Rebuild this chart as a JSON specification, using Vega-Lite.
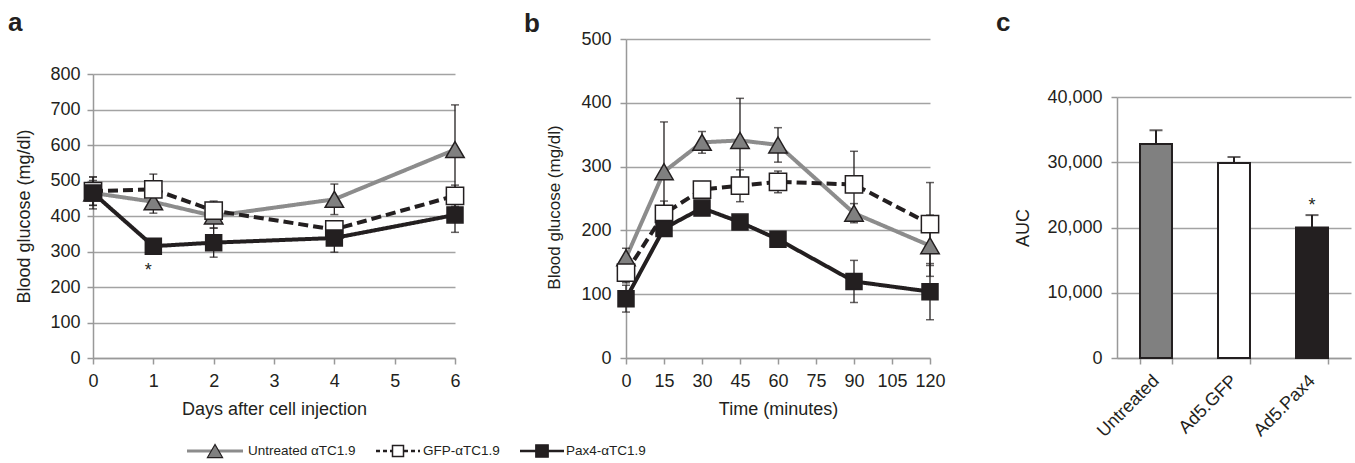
{
  "$schema": "https://vega.github.io/schema/vega-lite/v6.json",
  "padding": {"left": 8, "top": 10, "right": 2, "bottom": 2},
  "datasets": {
    "glucose": [
      {"day": 0, "series": "Untreated αTC1.9", "mean": 465, "lo": 420, "hi": 510},
      {"day": 1, "series": "Untreated αTC1.9", "mean": 440, "lo": 408, "hi": 472},
      {"day": 2, "series": "Untreated αTC1.9", "mean": 400, "lo": 366, "hi": 434},
      {"day": 4, "series": "Untreated αTC1.9", "mean": 447, "lo": 404, "hi": 490},
      {"day": 6, "series": "Untreated αTC1.9", "mean": 587, "lo": 461, "hi": 713},
      {"day": 0, "series": "GFP-αTC1.9", "mean": 470, "lo": 430, "hi": 510},
      {"day": 1, "series": "GFP-αTC1.9", "mean": 475, "lo": 432, "hi": 518},
      {"day": 2, "series": "GFP-αTC1.9", "mean": 415, "lo": 388, "hi": 442},
      {"day": 4, "series": "GFP-αTC1.9", "mean": 362, "lo": 342, "hi": 382},
      {"day": 6, "series": "GFP-αTC1.9", "mean": 457, "lo": 427, "hi": 487},
      {"day": 0, "series": "Pax4-αTC1.9", "mean": 465, "lo": 430, "hi": 500},
      {"day": 1, "series": "Pax4-αTC1.9", "mean": 315, "lo": 303, "hi": 327},
      {"day": 2, "series": "Pax4-αTC1.9", "mean": 325, "lo": 284, "hi": 366},
      {"day": 4, "series": "Pax4-αTC1.9", "mean": 338, "lo": 298, "hi": 378},
      {"day": 6, "series": "Pax4-αTC1.9", "mean": 403, "lo": 354, "hi": 452}
    ],
    "ogtt": [
      {"t": 0, "series": "Untreated αTC1.9", "mean": 157, "lo": 142, "hi": 172},
      {"t": 15, "series": "Untreated αTC1.9", "mean": 292, "lo": 214, "hi": 370},
      {"t": 30, "series": "Untreated αTC1.9", "mean": 338, "lo": 321, "hi": 355},
      {"t": 45, "series": "Untreated αTC1.9", "mean": 341, "lo": 275, "hi": 407},
      {"t": 60, "series": "Untreated αTC1.9", "mean": 334, "lo": 307, "hi": 361},
      {"t": 90, "series": "Untreated αTC1.9", "mean": 227, "lo": 212, "hi": 242},
      {"t": 120, "series": "Untreated αTC1.9", "mean": 176, "lo": 128, "hi": 224},
      {"t": 0, "series": "GFP-αTC1.9", "mean": 134, "lo": 118, "hi": 150},
      {"t": 15, "series": "GFP-αTC1.9", "mean": 226, "lo": 206, "hi": 246},
      {"t": 30, "series": "GFP-αTC1.9", "mean": 264, "lo": 252, "hi": 276},
      {"t": 45, "series": "GFP-αTC1.9", "mean": 270, "lo": 245, "hi": 295},
      {"t": 60, "series": "GFP-αTC1.9", "mean": 276, "lo": 259, "hi": 293},
      {"t": 90, "series": "GFP-αTC1.9", "mean": 272, "lo": 220, "hi": 324},
      {"t": 120, "series": "GFP-αTC1.9", "mean": 210, "lo": 145, "hi": 275},
      {"t": 0, "series": "Pax4-αTC1.9", "mean": 93, "lo": 72, "hi": 114},
      {"t": 15, "series": "Pax4-αTC1.9", "mean": 203, "lo": 191, "hi": 215},
      {"t": 30, "series": "Pax4-αTC1.9", "mean": 235, "lo": 225, "hi": 245},
      {"t": 45, "series": "Pax4-αTC1.9", "mean": 213, "lo": 205, "hi": 221},
      {"t": 60, "series": "Pax4-αTC1.9", "mean": 186, "lo": 178, "hi": 194},
      {"t": 90, "series": "Pax4-αTC1.9", "mean": 120, "lo": 87, "hi": 153},
      {"t": 120, "series": "Pax4-αTC1.9", "mean": 104, "lo": 60, "hi": 148}
    ],
    "auc": [
      {"group": "Untreated", "auc": 32800, "hi": 34900},
      {"group": "Ad5.GFP", "auc": 29900, "hi": 30800},
      {"group": "Ad5.Pax4", "auc": 20000, "hi": 21900}
    ]
  },
  "config": {
    "view": {"stroke": null},
    "font": "Liberation Sans",
    "axis": {
      "labelFont": "Liberation Sans", "labelFontSize": 18, "labelColor": "#231f20", "labelOverlap": false, "labelFlush": false,
      "titleFont": "Liberation Sans", "titleFontSize": 18, "titleFontWeight": "normal", "titleColor": "#231f20",
      "domainColor": "#999999", "domainWidth": 1.5, "tickColor": "#999999", "tickWidth": 1.5, "tickSize": 6,
      "gridColor": "#a3a3a3", "gridWidth": 1.5
    },
    "axisX": {"grid": false},
    "axisY": {"grid": true},
    "title": {"font": "Liberation Sans", "fontSize": 26, "fontWeight": "bold", "anchor": "start", "frame": "group", "color": "#231f20"}
  },
  "spacing": 0,
  "vconcat": [
    {
      "spacing": 50,
      "hconcat": [
        {
          "spacing": 56,
          "hconcat": [
            {
              "width": 362, "height": 319,
              "title": {"text": "a", "dx": -85, "offset": 3},
              "data": {"name": "glucose"},
              "encoding": {
                "x": {"field": "day", "type": "quantitative", "scale": {"domain": [0, 6], "nice": false},
                      "axis": {"values": [0, 1, 2, 3, 4, 5, 6], "title": "Days after cell injection", "labelPadding": 8, "titlePadding": 10}}
              },
              "layer": [
                {
                  "mark": {"type": "line", "strokeWidth": 4},
                  "encoding": {
                    "y": {"field": "mean", "type": "quantitative", "scale": {"domain": [0, 800], "nice": false, "range": [319, 35]},
                          "axis": {"values": [0, 100, 200, 300, 400, 500, 600, 700, 800], "tickCount": 9, "labelOverlap": false, "title": "Blood glucose (mg/dl)", "labelPadding": 7, "titlePadding": 16}},
                    "stroke": {"field": "series", "type": "nominal", "scale": {"domain": ["Untreated αTC1.9", "GFP-αTC1.9", "Pax4-αTC1.9"], "range": ["#8c8c8c", "#231f20", "#231f20"]}, "legend": null},
                    "strokeDash": {"field": "series", "type": "nominal", "scale": {"domain": ["Untreated αTC1.9", "GFP-αTC1.9", "Pax4-αTC1.9"], "range": [[1, 0], [10, 5], [1, 0]]}, "legend": null}
                  }
                },
                {
                  "mark": {"type": "rule", "color": "#231f20", "strokeWidth": 1.3},
                  "encoding": {"y": {"field": "lo", "type": "quantitative", "axis": {"values": [0, 100, 200, 300, 400, 500, 600, 700, 800], "tickCount": 9, "labelOverlap": false, "title": "Blood glucose (mg/dl)", "labelPadding": 7, "titlePadding": 16}}, "y2": {"field": "hi"}}
                },
                {
                  "mark": {"type": "tick", "orient": "horizontal", "color": "#231f20", "size": 8, "thickness": 1.5},
                  "encoding": {"y": {"field": "lo", "type": "quantitative", "axis": {"values": [0, 100, 200, 300, 400, 500, 600, 700, 800], "tickCount": 9, "labelOverlap": false, "title": "Blood glucose (mg/dl)", "labelPadding": 7, "titlePadding": 16}}}
                },
                {
                  "mark": {"type": "tick", "orient": "horizontal", "color": "#231f20", "size": 8, "thickness": 1.5},
                  "encoding": {"y": {"field": "hi", "type": "quantitative", "axis": {"values": [0, 100, 200, 300, 400, 500, 600, 700, 800], "tickCount": 9, "labelOverlap": false, "title": "Blood glucose (mg/dl)", "labelPadding": 7, "titlePadding": 16}}}
                },
                {
                  "mark": {"type": "point", "filled": true, "opacity": 1, "stroke": "#231f20", "strokeWidth": 1.5},
                  "encoding": {
                    "y": {"field": "mean", "type": "quantitative", "axis": {"values": [0, 100, 200, 300, 400, 500, 600, 700, 800], "tickCount": 9, "labelOverlap": false, "title": "Blood glucose (mg/dl)", "labelPadding": 7, "titlePadding": 16}},
                    "shape": {"field": "series", "type": "nominal", "scale": {"domain": ["Untreated αTC1.9", "GFP-αTC1.9", "Pax4-αTC1.9"], "range": ["triangle-up", "square", "square"]}, "legend": null},
                    "size": {"field": "series", "type": "nominal", "scale": {"domain": ["Untreated αTC1.9", "GFP-αTC1.9", "Pax4-αTC1.9"], "range": [340, 256, 256]}, "legend": null},
                    "fill": {"field": "series", "type": "nominal", "scale": {"domain": ["Untreated αTC1.9", "GFP-αTC1.9", "Pax4-αTC1.9"], "range": ["#808080", "#ffffff", "#231f20"]}, "legend": null}
                  }
                },
                {
                  "data": {"values": [{"day": 1, "mean": 246, "label": "*"}]},
                  "mark": {"type": "text", "dx": -5, "fontSize": 18, "baseline": "middle", "color": "#231f20", "font": "Liberation Sans"},
                  "encoding": {"y": {"field": "mean", "type": "quantitative", "axis": {"values": [0, 100, 200, 300, 400, 500, 600, 700, 800], "tickCount": 9, "labelOverlap": false, "title": "Blood glucose (mg/dl)", "labelPadding": 7, "titlePadding": 16}}, "text": {"field": "label"}}
                }
              ]
            },
            {
              "width": 304, "height": 319,
              "title": {"text": "b", "dx": -102, "offset": -7},
              "data": {"name": "ogtt"},
              "encoding": {
                "x": {"field": "t", "type": "quantitative", "scale": {"domain": [0, 120], "nice": false},
                      "axis": {"values": [0, 15, 30, 45, 60, 75, 90, 105, 120], "title": "Time (minutes)", "labelPadding": 8, "titlePadding": 10}}
              },
              "layer": [
                {
                  "mark": {"type": "line", "strokeWidth": 4},
                  "encoding": {
                    "y": {"field": "mean", "type": "quantitative", "scale": {"domain": [0, 500], "nice": false},
                          "axis": {"values": [0, 100, 200, 300, 400, 500], "labelOverlap": false, "title": "Blood glucose (mg/dl)", "titleFontSize": 17, "titleY": 168, "labelPadding": 9, "titlePadding": 17}},
                    "stroke": {"field": "series", "type": "nominal", "legend": null},
                    "strokeDash": {"field": "series", "type": "nominal", "legend": null}
                  }
                },
                {
                  "mark": {"type": "rule", "color": "#231f20", "strokeWidth": 1.3},
                  "encoding": {"y": {"field": "lo", "type": "quantitative", "axis": {"values": [0, 100, 200, 300, 400, 500], "labelOverlap": false, "title": "Blood glucose (mg/dl)", "titleFontSize": 17, "titleY": 168, "labelPadding": 9, "titlePadding": 17}}, "y2": {"field": "hi"}}
                },
                {
                  "mark": {"type": "tick", "orient": "horizontal", "color": "#231f20", "size": 8, "thickness": 1.5},
                  "encoding": {"y": {"field": "lo", "type": "quantitative", "axis": {"values": [0, 100, 200, 300, 400, 500], "labelOverlap": false, "title": "Blood glucose (mg/dl)", "titleFontSize": 17, "titleY": 168, "labelPadding": 9, "titlePadding": 17}}}
                },
                {
                  "mark": {"type": "tick", "orient": "horizontal", "color": "#231f20", "size": 8, "thickness": 1.5},
                  "encoding": {"y": {"field": "hi", "type": "quantitative", "axis": {"values": [0, 100, 200, 300, 400, 500], "labelOverlap": false, "title": "Blood glucose (mg/dl)", "titleFontSize": 17, "titleY": 168, "labelPadding": 9, "titlePadding": 17}}}
                },
                {
                  "mark": {"type": "point", "filled": true, "opacity": 1, "stroke": "#231f20", "strokeWidth": 1.5},
                  "encoding": {
                    "y": {"field": "mean", "type": "quantitative", "axis": {"values": [0, 100, 200, 300, 400, 500], "labelOverlap": false, "title": "Blood glucose (mg/dl)", "titleFontSize": 17, "titleY": 168, "labelPadding": 9, "titlePadding": 17}},
                    "shape": {"field": "series", "type": "nominal", "legend": null},
                    "size": {"field": "series", "type": "nominal", "legend": null},
                    "fill": {"field": "series", "type": "nominal", "legend": null}
                  }
                }
              ]
            }
          ]
        },
        {
          "width": 234, "height": 319,
          "title": {"text": "c", "dx": -121, "offset": 3},
          "data": {"name": "auc"},
          "encoding": {
            "x": {"field": "group", "type": "nominal", "sort": null, "scale": {"paddingInner": 0.59, "paddingOuter": 0.295},
                  "axis": {"title": null, "labelAngle": -45, "labelAlign": "right", "labelBaseline": "middle", "tickBand": "extent", "labelPadding": 14}}
          },
          "layer": [
            {
              "mark": {"type": "rule", "color": "#231f20", "strokeWidth": 2},
              "encoding": {
                "y": {"field": "auc", "type": "quantitative", "scale": {"domain": [0, 40000], "nice": false, "range": [319, 58]},
                      "axis": {"values": [0, 10000, 20000, 30000, 40000], "labelOverlap": false, "format": ",.0f", "title": "AUC", "labelPadding": 9, "titlePadding": 14}},
                "y2": {"field": "hi"}
              }
            },
            {
              "mark": {"type": "tick", "orient": "horizontal", "color": "#231f20", "size": 13, "thickness": 2},
              "encoding": {"y": {"field": "hi", "type": "quantitative", "axis": {"values": [0, 10000, 20000, 30000, 40000], "labelOverlap": false, "format": ",.0f", "title": "AUC", "labelPadding": 9, "titlePadding": 14}}}
            },
            {
              "mark": {"type": "bar", "stroke": "#231f20", "strokeWidth": 2},
              "encoding": {
                "y": {"field": "auc", "type": "quantitative", "axis": {"values": [0, 10000, 20000, 30000, 40000], "labelOverlap": false, "format": ",.0f", "title": "AUC", "labelPadding": 9, "titlePadding": 14}},
                "color": {"field": "group", "type": "nominal", "sort": null, "scale": {"domain": ["Untreated", "Ad5.GFP", "Ad5.Pax4"], "range": ["#808080", "#ffffff", "#231f20"]}, "legend": null}
              }
            },
            {
              "data": {"values": [{"group": "Ad5.Pax4", "auc": 23333, "label": "*"}]},
              "mark": {"type": "text", "fontSize": 18, "baseline": "middle", "color": "#231f20", "font": "Liberation Sans"},
              "encoding": {"y": {"field": "auc", "type": "quantitative", "axis": {"values": [0, 10000, 20000, 30000, 40000], "labelOverlap": false, "format": ",.0f", "title": "AUC", "labelPadding": 9, "titlePadding": 14}}, "text": {"field": "label"}}
            }
          ]
        }
      ]
    },
    {
      "spacing": 18,
      "hconcat": [
        {
          "width": 74, "height": 16,
          "data": {"values": [{"series": "Untreated αTC1.9"}]},
          "mark": {"type": "rule", "opacity": 0},
          "encoding": {
            "x": {"datum": 0, "type": "quantitative", "scale": {"domain": [0, 1]}, "axis": null},
            "x2": {"datum": 1},
            "y": {"datum": 0.5, "type": "quantitative", "scale": {"domain": [0, 1]}, "axis": null}
          }
        },
        {
          "width": 56, "height": 16,
          "data": {"values": [{"series": "Untreated αTC1.9"}]},
          "encoding": {"y": {"datum": 0.5, "type": "quantitative", "scale": {"domain": [0, 1]}, "axis": null}},
          "layer": [
            {"mark": {"type": "rule", "color": "#8c8c8c", "strokeWidth": 3},
             "encoding": {"x": {"datum": 0, "type": "quantitative", "scale": {"domain": [0, 1]}, "axis": null}, "x2": {"datum": 1}}},
            {"mark": {"type": "point", "filled": true, "opacity": 1, "stroke": "#231f20", "strokeWidth": 1.2, "size": 230},
             "encoding": {"x": {"datum": 0.5, "type": "quantitative"}, "shape": {"field": "series", "type": "nominal", "legend": null}, "fill": {"field": "series", "type": "nominal", "legend": null}}},
            {"mark": {"type": "text", "align": "left", "baseline": "middle", "dx": 5, "fontSize": 13.5, "color": "#231f20", "font": "Liberation Sans"},
             "encoding": {"x": {"datum": 1, "type": "quantitative"}, "text": {"field": "series"}}}
          ]
        },
        {
          "width": 44, "height": 16,
          "data": {"values": [{"series": "GFP-αTC1.9"}]},
          "encoding": {"y": {"datum": 0.5, "type": "quantitative", "scale": {"domain": [0, 1]}, "axis": null}},
          "layer": [
            {"mark": {"type": "rule", "color": "#231f20", "strokeWidth": 2.5, "strokeDash": [4, 3]},
             "encoding": {"x": {"datum": 0, "type": "quantitative", "scale": {"domain": [0, 1]}, "axis": null}, "x2": {"datum": 1}}},
            {"mark": {"type": "point", "filled": true, "opacity": 1, "stroke": "#231f20", "strokeWidth": 1.5, "size": 121},
             "encoding": {"x": {"datum": 0.5, "type": "quantitative"}, "shape": {"field": "series", "type": "nominal", "legend": null}, "fill": {"field": "series", "type": "nominal", "legend": null}}},
            {"mark": {"type": "text", "align": "left", "baseline": "middle", "dx": 3, "fontSize": 13.5, "color": "#231f20", "font": "Liberation Sans"},
             "encoding": {"x": {"datum": 1, "type": "quantitative"}, "text": {"field": "series"}}}
          ]
        },
        {
          "width": 44, "height": 16,
          "data": {"values": [{"series": "Pax4-αTC1.9"}]},
          "encoding": {"y": {"datum": 0.5, "type": "quantitative", "scale": {"domain": [0, 1]}, "axis": null}},
          "layer": [
            {"mark": {"type": "rule", "color": "#231f20", "strokeWidth": 2.5},
             "encoding": {"x": {"datum": 0, "type": "quantitative", "scale": {"domain": [0, 1]}, "axis": null}, "x2": {"datum": 1}}},
            {"mark": {"type": "point", "filled": true, "opacity": 1, "stroke": "#231f20", "strokeWidth": 1.5, "size": 150},
             "encoding": {"x": {"datum": 0.5, "type": "quantitative"}, "shape": {"field": "series", "type": "nominal", "legend": null}, "fill": {"field": "series", "type": "nominal", "legend": null}}},
            {"mark": {"type": "text", "align": "left", "baseline": "middle", "dx": 2, "fontSize": 13.5, "color": "#231f20", "font": "Liberation Sans"},
             "encoding": {"x": {"datum": 1, "type": "quantitative"}, "text": {"field": "series"}}}
          ]
        }
      ]
    }
  ]
}
